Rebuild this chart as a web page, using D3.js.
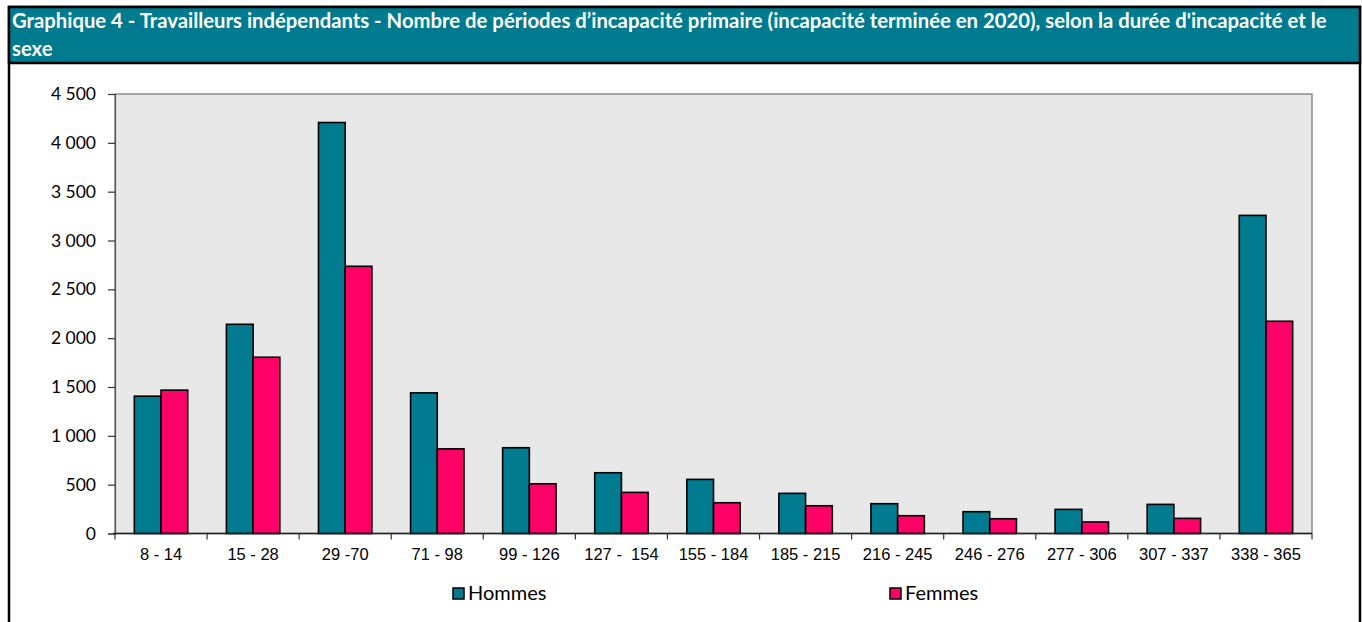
<!DOCTYPE html>
<html>
<head>
<meta charset="utf-8">
<script src="https://cdn.jsdelivr.net/npm/d3@7"></script>
<style>
  body { margin: 0; background: #fff; }
  svg { display: block; }
</style>
</head>
<body>
<div id="chart"></div>
<script>
// Graphique 4 - periodes d'incapacite primaire, independants, par duree et sexe
var categories = ['8 - 14', '15 - 28', '29 -70', '71 - 98', '99 - 126', '127 -  154', '155 - 184',
    '185 - 215', '216 - 245', '246 - 276', '277 - 306', '307 - 337', '338 - 365'];
var hommes = [1406, 2142, 4208, 1440, 878, 622, 554, 411, 305, 223, 247, 298, 3257];
var femmes = [1468, 1805, 2736, 867, 509, 421, 315, 284, 182, 151, 118, 155, 2173];
var seriesNames = ['Hommes', 'Femmes'];
var yTicks = [0, 500, 1000, 1500, 2000, 2500, 3000, 3500, 4000, 4500];
var titleLines = [
    'Graphique 4 - Travailleurs indépendants - Nombre de périodes d\u2019incapacité primaire (incapacité terminée en 2020), selon la durée d\'incapacité et le',
    'sexe'
];

var colors = { Hommes: '#007b8f', Femmes: '#ff0066' };

var W = 1362, H = 622;
var plot = { left: 115, right: 1312, top: 94, bottom: 533.5 };

var svg = d3.select('#chart').append('svg')
    .attr('width', W)
    .attr('height', H);

// outer frame + title band
svg.append('rect')
    .attr('x', 9).attr('y', 7)
    .attr('width', 1351).attr('height', 640)
    .attr('fill', '#fff')
    .attr('stroke', '#000')
    .attr('stroke-width', 2.5);

svg.append('rect')
    .attr('x', 9).attr('y', 7)
    .attr('width', 1351).attr('height', 56)
    .attr('fill', '#007a8e')
    .attr('stroke', '#000')
    .attr('stroke-width', 2.5);

svg.selectAll('text.title')
    .data(titleLines)
    .enter().append('text')
    .attr('class', 'title')
    .attr('x', 12)
    .attr('y', function (d, i) { return 27.5 + i * 28; })
    .attr('fill', '#fff')
    .style('font-family', 'Lato, sans-serif')
    .style('font-weight', 'bold')
    .style('font-size', '20.3px')
    .text(function (d) { return d; });

// scales
var x0 = d3.scaleBand()
    .domain(categories)
    .range([plot.left, plot.right])
    .paddingInner(0.42)
    .paddingOuter(0.21);

var x1 = d3.scaleBand()
    .domain(seriesNames)
    .range([0, x0.bandwidth()]);

var y = d3.scaleLinear()
    .domain([0, 4500])
    .range([plot.bottom, plot.top]);

// plot area
svg.append('rect')
    .attr('x', plot.left).attr('y', plot.top)
    .attr('width', plot.right - plot.left)
    .attr('height', plot.bottom - plot.top)
    .attr('fill', '#e8e8e8')
    .attr('stroke', '#8c8c8c')
    .attr('stroke-width', 1.5);

// y axis
var yAxis = svg.append('g')
    .attr('transform', 'translate(' + plot.left + ',0)')
    .call(d3.axisLeft(y)
        .tickValues(yTicks)
        .tickSize(7)
        .tickPadding(12)
        .tickFormat(function (d) { return d3.format(',')(d).replace(/,/g, '\u00a0'); }));

yAxis.select('.domain').attr('stroke', '#555').attr('stroke-width', 1.2);
yAxis.selectAll('.tick line').attr('stroke', '#333').attr('stroke-width', 1.2);
yAxis.selectAll('.tick text')
    .attr('fill', '#000')
    .style('font-family', 'Lato, sans-serif')
    .style('font-size', '17.5px');

// bars
var groups = svg.selectAll('g.cat')
    .data(categories)
    .enter().append('g')
    .attr('class', 'cat')
    .attr('transform', function (d) { return 'translate(' + x0(d) + ',0)'; });

groups.selectAll('rect')
    .data(function (d, i) {
        return [{ key: 'Hommes', value: hommes[i] }, { key: 'Femmes', value: femmes[i] }];
    })
    .enter().append('rect')
    .attr('x', function (d) { return x1(d.key); })
    .attr('width', x1.bandwidth())
    .attr('y', function (d) { return y(d.value); })
    .attr('height', function (d) { return y(0) - y(d.value); })
    .attr('fill', function (d) { return colors[d.key]; })
    .attr('stroke', '#000')
    .attr('stroke-width', 1.6);

// x axis: ticks sit on category boundaries
var step = x0.step();
var bounds = d3.range(categories.length + 1).map(function (i) { return plot.left + i * step; });

var xAxis = svg.append('g');
xAxis.append('line')
    .attr('x1', plot.left - 2).attr('x2', plot.right)
    .attr('y1', plot.bottom).attr('y2', plot.bottom)
    .attr('stroke', '#222')
    .attr('stroke-width', 1.5);

xAxis.selectAll('line.tk')
    .data(bounds)
    .enter().append('line')
    .attr('class', 'tk')
    .attr('x1', function (d) { return d; }).attr('x2', function (d) { return d; })
    .attr('y1', plot.bottom).attr('y2', plot.bottom + 6)
    .attr('stroke', '#333')
    .attr('stroke-width', 1.2);

xAxis.selectAll('text')
    .data(categories)
    .enter().append('text')
    .attr('x', function (d) { return x0(d) + x0.bandwidth() / 2; })
    .attr('y', 560)
    .attr('text-anchor', 'middle')
    .style('white-space', 'pre')
    .style('font-family', '"Liberation Sans", Arial, sans-serif')
    .style('font-size', '16.5px')
    .text(function (d) { return d; });

// legend
var legendX = [453, 890];
var legend = svg.selectAll('g.legend')
    .data(seriesNames)
    .enter().append('g')
    .attr('class', 'legend')
    .attr('transform', function (d, i) { return 'translate(' + legendX[i] + ',588)'; });

legend.append('rect')
    .attr('width', 11).attr('height', 11)
    .attr('fill', function (d) { return colors[d]; })
    .attr('stroke', '#000')
    .attr('stroke-width', 1.5);

legend.append('text')
    .attr('x', 15)
    .attr('y', 12)
    .style('font-family', 'Lato, sans-serif')
    .style('font-size', '20px')
    .text(function (d) { return d; });
</script>
</body>
</html>
